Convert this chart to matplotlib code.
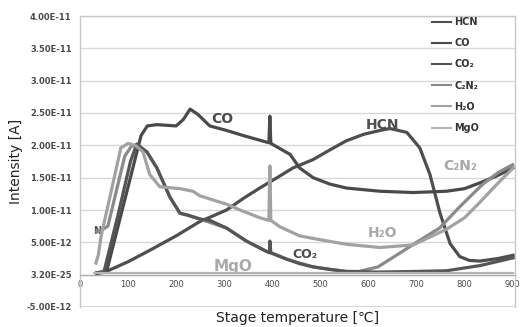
import matplotlib
matplotlib.use("Agg")
import matplotlib.pyplot as plt
import numpy as np

plt.rcParams['font.family'] = ['DejaVu Sans', 'Noto Sans CJK JP']

E = 1e-12

# ---- data (temperature in degC, intensity in units of 1e-12 A) ----
hcn_t = [35, 52, 100, 141, 200, 249, 305, 340, 374, 410, 443, 485, 520, 554, 590, 624, 645,
         680, 707, 728, 749, 770, 790, 810, 832, 870, 901]
hcn_v = [0.3, 0.4, 2.0, 3.6, 6.0, 8.2, 10.0, 11.8, 13.4, 15.0, 16.5, 17.8, 19.3, 20.7, 21.7,
         22.3, 22.6, 22.0, 19.6, 15.5, 9.5, 4.8, 2.8, 2.2, 2.1, 2.5, 3.0]

co_t = [35, 55, 127, 140, 160, 200, 215, 229, 245, 270, 305, 340, 393, 395, 397, 437, 457,
        485, 520, 554, 624, 693, 762, 800, 832, 865, 901]
co_v = [0.2, 0.4, 21.5, 23.0, 23.2, 23.0, 24.0, 25.6, 24.8, 23.0, 22.3, 21.5, 20.4, 24.5,
        20.3, 18.6, 16.5, 15.0, 14.0, 13.4, 12.9, 12.7, 12.9, 13.3, 14.2, 15.2, 16.5]

co2_t = [35, 50, 80, 105, 118, 139, 160, 187, 208, 225, 250, 270, 305, 346, 388, 394, 395,
         397, 430, 457, 485, 520, 554, 620, 700, 762, 832, 901]
co2_v = [0.3, 0.5, 9.5, 17.5, 20.2, 19.0, 16.5, 12.0, 9.5, 9.2, 8.6, 8.4, 7.2, 5.2, 3.6, 3.4,
         5.2, 3.4, 2.4, 1.7, 1.2, 0.8, 0.5, 0.4, 0.5, 0.6, 1.4, 2.6]

c2n2_t = [35, 45, 58, 93, 108, 125, 139, 160, 187, 208, 250, 305, 346, 388, 430, 485, 554,
          580, 620, 673, 700, 748, 790, 838, 870, 900]
c2n2_v = [6.6, 6.9, 7.5, 18.3, 20.0, 19.6, 19.0, 16.5, 12.0, 9.5, 8.6, 7.2, 5.2, 3.6, 2.4,
          1.2, 0.5, 0.5, 1.2, 3.7, 5.0, 7.2, 10.5, 14.0, 15.8, 17.0]

h2o_t = [33, 38, 44, 64, 85, 100, 115, 131, 145, 166, 208, 235, 249, 305, 333, 374, 393, 395,
         397, 416, 457, 485, 554, 624, 693, 762, 800, 832, 865, 901]
h2o_v = [1.8, 3.0, 6.0, 12.6, 19.6, 20.3, 20.0, 19.0, 15.5, 13.6, 13.3, 12.9, 12.2, 10.9,
         10.0, 8.8, 8.4, 16.8, 8.4, 7.4, 6.0, 5.6, 4.7, 4.2, 4.6, 7.0, 8.8, 11.2, 13.8, 16.5]

mgo_t = [30, 200, 400, 600, 800, 900]
mgo_v = [0.25, 0.25, 0.25, 0.25, 0.25, 0.25]

series_names = ["HCN", "CO", "CO\u2082", "C\u2082N\u2082", "H\u2082O", "MgO"]

y_ticks = [-5e-12, 0, 5e-12, 1e-11, 1.5e-11, 2e-11, 2.5e-11, 3e-11, 3.5e-11, 4e-11]
y_tick_labels = ["-5.00E-12", "3.20E-25", "5.00E-12", "1.00E-11", "1.50E-11", "2.00E-11",
                 "2.50E-11", "3.00E-11", "3.50E-11", "4.00E-11"]
x_ticks = [0, 100, 200, 300, 400, 500, 600, 700, 800, 900]

# ---- figure ----
fig = plt.figure(figsize=(5.22, 3.27), dpi=100)
ax = fig.add_axes([80 / 522, 20 / 327, 435 / 522, 291 / 327])

def sc(v):
    return np.asarray(v) * E

lw = 2.3
ax.plot(hcn_t, sc(hcn_v), color="#4e4e4e", lw=lw, label=series_names[0], zorder=3)
ax.plot(co_t, sc(co_v), color="#4a4a4a", lw=lw, label=series_names[1], zorder=3.1)
ax.plot(c2n2_t, sc(c2n2_v), color="#8a8a8a", lw=lw, label=series_names[3], zorder=3.15)
ax.plot(co2_t, sc(co2_v), color="#555555", lw=lw, label=series_names[2], zorder=3.2)
ax.plot(h2o_t, sc(h2o_v), color="#a2a2a2", lw=lw, label=series_names[4], zorder=3.4)
ax.plot(mgo_t, sc(mgo_v), color="#b4b4b4", lw=1.6, label=series_names[5], zorder=3.5)

ax.set_xlim(0, 905)
ax.set_ylim(-5e-12, 4e-11)
ax.set_yticks(y_ticks)
ax.set_yticklabels(y_tick_labels)
ax.set_xticks(x_ticks)
ax.set_xticklabels([str(t) for t in x_ticks])
ax.tick_params(axis='both', length=0, labelsize=6, colors="#4a4a4a")
ax.tick_params(axis='y', pad=6)
ax.tick_params(axis='x', pad=4)
for lab in ax.get_xticklabels() + ax.get_yticklabels():
    lab.set_fontweight("bold")

ax.spines['bottom'].set_position(('data', 0))
for s in ax.spines.values():
    s.set_color("#c8c8c8")
    s.set_linewidth(1.0)
ax.spines['bottom'].set_color("#b0b0b0")
ax.yaxis.grid(True, color="#d8d8d8", lw=1.0)
ax.set_axisbelow(True)
# bottom border of plot area
ax.axhline(-5e-12, color="#d0d0d0", lw=1.2, zorder=0)

# in-chart labels
ax.text(297, 2.41e-11, "CO", color="#4a4a4a", fontsize=10, fontweight="bold", ha="center", va="center")
ax.text(630, 2.31e-11, "HCN", color="#4e4e4e", fontsize=10, fontweight="bold", ha="center", va="center")
ax.text(790, 1.68e-11, "C\u2082N\u2082", color="#a8a8a8", fontsize=10, fontweight="bold", ha="center", va="center")
ax.text(630, 6.4e-12, "H\u2082O", color="#a8a8a8", fontsize=10, fontweight="bold", ha="center", va="center")
ax.text(468, 3.1e-12, "CO\u2082", color="#4a4a4a", fontsize=9, fontweight="bold", ha="center", va="center")
ax.text(318, 1.3e-12, "MgO", color="#aaaaaa", fontsize=11, fontweight="bold", ha="center", va="center")
ax.text(35, 6.8e-12, "N", color="#555555", fontsize=7, fontweight="bold", ha="center", va="center", zorder=2)

ax.set_xlabel("Stage temperature [\u2103]", fontsize=10, color="#222222", labelpad=0)
ax.xaxis.set_label_coords(0.5, -0.015)
ax.set_ylabel("Intensity [A]", fontsize=10, color="#222222")
ax.yaxis.set_label_coords(-0.131, 0.50)

handles, labels = ax.get_legend_handles_labels()
order = [labels.index(n) for n in series_names]
leg = ax.legend([handles[i] for i in order], [labels[i] for i in order],
                loc="upper left", bbox_to_anchor=(432 / 522, 1 - 17 / 327),
                bbox_transform=fig.transFigure, frameon=False, fontsize=7,
                handlelength=2.0, handletextpad=0.3, labelspacing=1.15,
                borderpad=0, borderaxespad=0)
for t in leg.get_texts():
    t.set_fontweight("bold")
    t.set_color("#333333")
for h in leg.get_lines():
    h.set_linewidth(1.5)

fig.savefig("out.png", dpi=100)
